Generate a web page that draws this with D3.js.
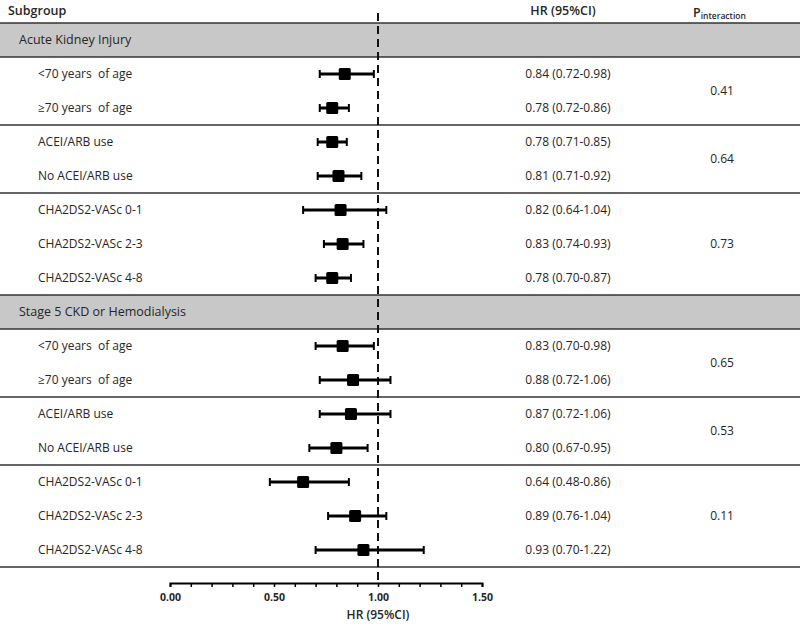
<!DOCTYPE html>
<html>
<head>
<meta charset="utf-8">
<script src="https://cdn.jsdelivr.net/npm/d3@7"></script>
<style>
  body { margin: 0; background: #fff; }
  svg { display: block; font-family: "Open Sans", "Noto Sans", sans-serif; }
  text { white-space: pre; }
</style>
</head>
<body>
<svg id="chart" width="800" height="626"></svg>
<script>
// ---- data ----
const groups = ["Acute Kidney Injury", "Stage 5 CKD or Hemodialysis"];
const subgroups = ["<70 years  of age", "\u226570 years  of age", "ACEI/ARB use", "No ACEI/ARB use",
  "CHA2DS2-VASc 0-1", "CHA2DS2-VASc 2-3", "CHA2DS2-VASc 4-8"];
const hrAKI = [0.84, 0.78, 0.78, 0.81, 0.82, 0.83, 0.78];
const loAKI = [0.72, 0.72, 0.71, 0.71, 0.64, 0.74, 0.70];
const hiAKI = [0.98, 0.86, 0.85, 0.92, 1.04, 0.93, 0.87];
const hrCKD = [0.83, 0.88, 0.87, 0.80, 0.64, 0.89, 0.93];
const loCKD = [0.70, 0.72, 0.72, 0.67, 0.48, 0.76, 0.70];
const hiCKD = [0.98, 1.06, 1.06, 0.95, 0.86, 1.04, 1.22];
const pAKI = ["0.41", "0.64", "0.73"];
const pCKD = ["0.65", "0.53", "0.11"];
const pairSizes = [2, 2, 3];
const tickValues = [0, 0.1, 0.2, 0.3, 0.4, 0.5, 0.6, 0.7, 0.8, 0.9, 1.0, 1.1, 1.2, 1.3, 1.4, 1.5];
const tickLabels = [0, 0.5, 1.0, 1.5];

// ---- build rows ----
const rows = [];
let idx = 0;
const sets = [[hrAKI, loAKI, hiAKI, pAKI], [hrCKD, loCKD, hiCKD, pCKD]];
const separators = [];
const pRows = [];
groups.forEach((g, gi) => {
  rows.push({type: "group", label: g, i: idx++});
  const [hr, lo, hi, ps] = sets[gi];
  let s = 0;
  pairSizes.forEach((n, bi) => {
    const first = idx;
    for (let k = 0; k < n; k++) {
      const j = s + k;
      rows.push({type: "row", label: subgroups[j], hr: hr[j], lo: lo[j], hi: hi[j], i: idx++});
    }
    pRows.push({p: ps[bi], i: (first + idx - 1) / 2});
    if (!(gi === 0 && bi === pairSizes.length - 1)) separators.push(idx - 0.5);
    s += n;
  });
});

const svg = d3.select("#chart");
const x = d3.scaleLinear().domain([0, 1.5]).range([170, 482]);
const y = d3.scaleLinear().domain([0, 1]).range([40, 74]);
const lineCol = "#333";
const textCol = "#262626";

// group bands
const groupRows = rows.filter(r => r.type === "group");
svg.selectAll("rect.band").data(groupRows).join("rect")
  .attr("x", 0).attr("width", 800)
  .attr("y", d => y(d.i - 0.5)).attr("height", d => y(d.i + 0.5) - y(d.i - 0.5))
  .attr("fill", "#c8c8c8");
svg.selectAll("line.bandline").data(groupRows.flatMap(d => [d.i - 0.5, d.i + 0.5])).join("line")
  .attr("x1", 0).attr("x2", 800).attr("y1", d => y(d)).attr("y2", d => y(d))
  .attr("stroke", lineCol).attr("stroke-width", 1.5);
svg.selectAll("line.sep").data(separators).join("line")
  .attr("x1", 0).attr("x2", 800).attr("y1", d => y(d)).attr("y2", d => y(d))
  .attr("stroke", lineCol).attr("stroke-width", 1.5);

// headers
svg.append("text").attr("x", 8).attr("y", 11).attr("dy", "0.35em")
  .attr("font-size", 12.5).attr("font-weight", 600).attr("fill", textCol).text("Subgroup");
svg.append("text").attr("x", 563).attr("y", 11).attr("dy", "0.35em").attr("text-anchor", "middle")
  .attr("font-size", 12.5).attr("font-weight", 600).attr("fill", textCol).text("HR (95%CI)");
const ph = svg.append("text").attr("x", 693).attr("y", 13).attr("dy", "0.35em")
  .attr("font-size", 12.5).attr("font-weight", 600).attr("fill", textCol);
ph.append("tspan").text("P");
ph.append("tspan").attr("font-size", 8.5).attr("dy", 2).text("interaction");

// group labels
svg.selectAll("text.group").data(groupRows).join("text")
  .attr("x", 19).attr("y", d => y(d.i)).attr("dy", "0.35em")
  .attr("font-size", 12.5).attr("fill", textCol).text(d => d.label);

const dataRows = rows.filter(r => r.type === "row");
svg.selectAll("text.sub").data(dataRows).join("text")
  .attr("x", 38).attr("y", d => y(d.i)).attr("dy", "0.35em")
  .attr("font-size", 12).attr("fill", textCol).text(d => d.label);

svg.selectAll("text.hr").data(dataRows).join("text")
  .attr("x", 568).attr("y", d => y(d.i)).attr("dy", "0.35em").attr("text-anchor", "middle")
  .attr("font-size", 12).attr("fill", textCol)
  .text(d => `${d.hr.toFixed(2)} (${d.lo.toFixed(2)}-${d.hi.toFixed(2)})`);

svg.selectAll("text.p").data(pRows).join("text")
  .attr("x", 722).attr("y", d => y(d.i)).attr("dy", "0.35em").attr("text-anchor", "middle")
  .attr("font-size", 12).attr("fill", textCol).text(d => d.p);

// reference line
svg.append("line").attr("x1", x(1)).attr("x2", x(1)).attr("y1", 13).attr("y2", 583)
  .attr("stroke", "#111").attr("stroke-width", 2).attr("stroke-dasharray", "8,5");

// CIs
const g = svg.append("g");
g.selectAll("line.ci").data(dataRows).join("line")
  .attr("x1", d => x(d.lo)).attr("x2", d => x(d.hi))
  .attr("y1", d => y(d.i)).attr("y2", d => y(d.i))
  .attr("stroke", "#000").attr("stroke-width", 3);
g.selectAll("line.capl").data(dataRows).join("line")
  .attr("x1", d => x(d.lo)).attr("x2", d => x(d.lo))
  .attr("y1", d => y(d.i) - 4).attr("y2", d => y(d.i) + 4)
  .attr("stroke", "#000").attr("stroke-width", 2);
g.selectAll("line.caph").data(dataRows).join("line")
  .attr("x1", d => x(d.hi)).attr("x2", d => x(d.hi))
  .attr("y1", d => y(d.i) - 4).attr("y2", d => y(d.i) + 4)
  .attr("stroke", "#000").attr("stroke-width", 2);
g.selectAll("rect.pt").data(dataRows).join("rect")
  .attr("x", d => x(d.hr) - 6).attr("y", d => y(d.i) - 6)
  .attr("width", 12).attr("height", 12).attr("rx", 1.5)
  .attr("fill", "#000");

// axis
const axis = d3.axisBottom(x).tickValues(tickValues).tickSize(4)
  .tickFormat(d => tickLabels.some(t => Math.abs(t - d) < 1e-9) ? d3.format(".2f")(d) : "");
const ax = svg.append("g").attr("transform", "translate(0,583)").call(axis);
ax.select(".domain").attr("stroke", "#000").attr("stroke-width", 2);
ax.selectAll(".tick line").attr("stroke", "#000").attr("stroke-width", 1.5);
ax.selectAll(".tick text").attr("font-family", "'Open Sans', sans-serif")
  .attr("font-size", 10.5).attr("font-weight", 700).attr("fill", textCol).attr("y", 11);
svg.append("text").attr("x", x(1)).attr("y", 615).attr("dy", "0.35em").attr("text-anchor", "middle")
  .attr("font-size", 12).attr("font-weight", 600).attr("fill", textCol).text("HR (95%CI)");
</script>
</body>
</html>
